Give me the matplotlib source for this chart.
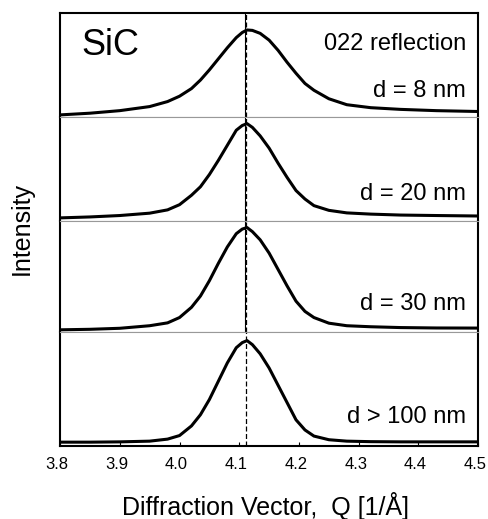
import matplotlib
matplotlib.use("Agg")
import matplotlib.pyplot as plt
from matplotlib.transforms import ScaledTranslation

plt.rcParams["font.family"] = ["Liberation Sans", "DejaVu Sans"]

# Datos (intensidad normalizada, 0 = fondo, 1 = pico)
q = [3.80, 3.85, 3.90, 3.95, 3.98, 4.00, 4.02, 4.035, 4.05, 4.065, 4.08, 4.095,
     4.105, 4.113, 4.122, 4.135, 4.15, 4.165, 4.18, 4.195, 4.21, 4.225, 4.25,
     4.28, 4.32, 4.37, 4.43, 4.50]

i_8nm = [0.0, 0.02, 0.05, 0.098, 0.157, 0.22, 0.31, 0.41, 0.53, 0.66, 0.79, 0.91,
         0.97, 1.0, 0.995, 0.96, 0.88, 0.76, 0.62, 0.49, 0.37, 0.29, 0.19,
         0.12, 0.085, 0.065, 0.05, 0.04]
i_20nm = [0.0, 0.01, 0.025, 0.05, 0.085, 0.14, 0.24, 0.33, 0.46, 0.61, 0.77, 0.93,
          0.98, 1.0, 0.96, 0.87, 0.74, 0.58, 0.43, 0.29, 0.20, 0.13, 0.08,
          0.053, 0.04, 0.03, 0.025, 0.02]
i_30nm = [0.0, 0.005, 0.015, 0.04, 0.068, 0.12, 0.22, 0.33, 0.48, 0.65, 0.81, 0.94,
          0.985, 1.0, 0.96, 0.88, 0.75, 0.59, 0.43, 0.28, 0.18, 0.12, 0.065,
          0.04, 0.03, 0.022, 0.018, 0.017]
i_100nm = [0.0, 0.0, 0.003, 0.01, 0.03, 0.065, 0.16, 0.27, 0.42, 0.60, 0.78, 0.93,
           0.98, 1.0, 0.96, 0.87, 0.73, 0.56, 0.39, 0.22, 0.12, 0.06, 0.024,
           0.01, 0.005, 0.003, 0.003, 0.003]

curvas = [i_8nm, i_20nm, i_30nm, i_100nm]
etiquetas = ["d = 8 nm", "d = 20 nm", "d = 30 nm", "d > 100 nm"]
q_pico = 4.111
xticks = [3.8, 3.9, 4.0, 4.1, 4.2, 4.3, 4.4, 4.5]

# Layout
alturas = [104, 104, 111, 114]
ylims = [(-0.024, 1.20), (-0.032, 1.071), (-0.02, 1.065), (-0.036, 1.086)]
y_texto = [0.192, 0.202, 0.198, 0.20]


def main():
    fig = plt.figure(figsize=(4.88, 5.19), dpi=100)
    gs = fig.add_gridspec(4, 1, height_ratios=alturas, hspace=0,
                          left=0.123, right=0.980, top=0.975, bottom=0.141)
    axes = [fig.add_subplot(gs[k]) for k in range(4)]

    for k, ax in enumerate(axes):
        ax.plot(q, curvas[k], color="black", lw=2.2, solid_joinstyle="round")
        ax.set_xlim(3.8, 4.5)
        ax.set_ylim(*ylims[k])
        ax.set_yticks([])
        ax.axvline(q_pico, color="black", lw=0.9, ls=(0, (4, 2)))
        if k < 3:
            ax.axvline(q_pico - 0.002, color="black", lw=0.8)
        ax.text(0.971, y_texto[k], etiquetas[k], transform=ax.transAxes,
                ha="right", va="baseline", fontsize=17)
        for lado in ["left", "right"]:
            ax.spines[lado].set_linewidth(1.5)
        ax.spines["top"].set_linewidth(1.5 if k == 0 else 0.8)
        ax.spines["top"].set_color("black" if k == 0 else "#999999")
        ax.spines["bottom"].set_linewidth(1.5 if k == 3 else 0.8)
        ax.spines["bottom"].set_color("black" if k == 3 else "#999999")
        if k < 3:
            ax.set_xticks([])
        else:
            ax.set_xticks(xticks)
            ax.set_xticklabels([f"{t:.1f}" for t in xticks])
            ax.tick_params(axis="x", direction="in", length=3, labelsize=12, pad=8)
            desplaza = ScaledTranslation(-3 / 100, 0, fig.dpi_scale_trans)
            for lab in ax.get_xticklabels():
                lab.set_transform(lab.get_transform() + desplaza)

    axes[0].text(0.05, 0.596, "SiC", transform=axes[0].transAxes,
                 ha="left", va="baseline", fontsize=26)
    axes[0].text(0.971, 0.644, "022 reflection", transform=axes[0].transAxes,
                 ha="right", va="baseline", fontsize=17)

    fig.text(0.045, 0.56, "Intensity", rotation=90, ha="center", va="center", fontsize=18)
    fig.text(0.545, 0.026, "Diffraction Vector,  Q [1/Å]", ha="center", va="center", fontsize=18)

    plt.savefig("out.png", dpi=100)


if __name__ == "__main__":
    main()
